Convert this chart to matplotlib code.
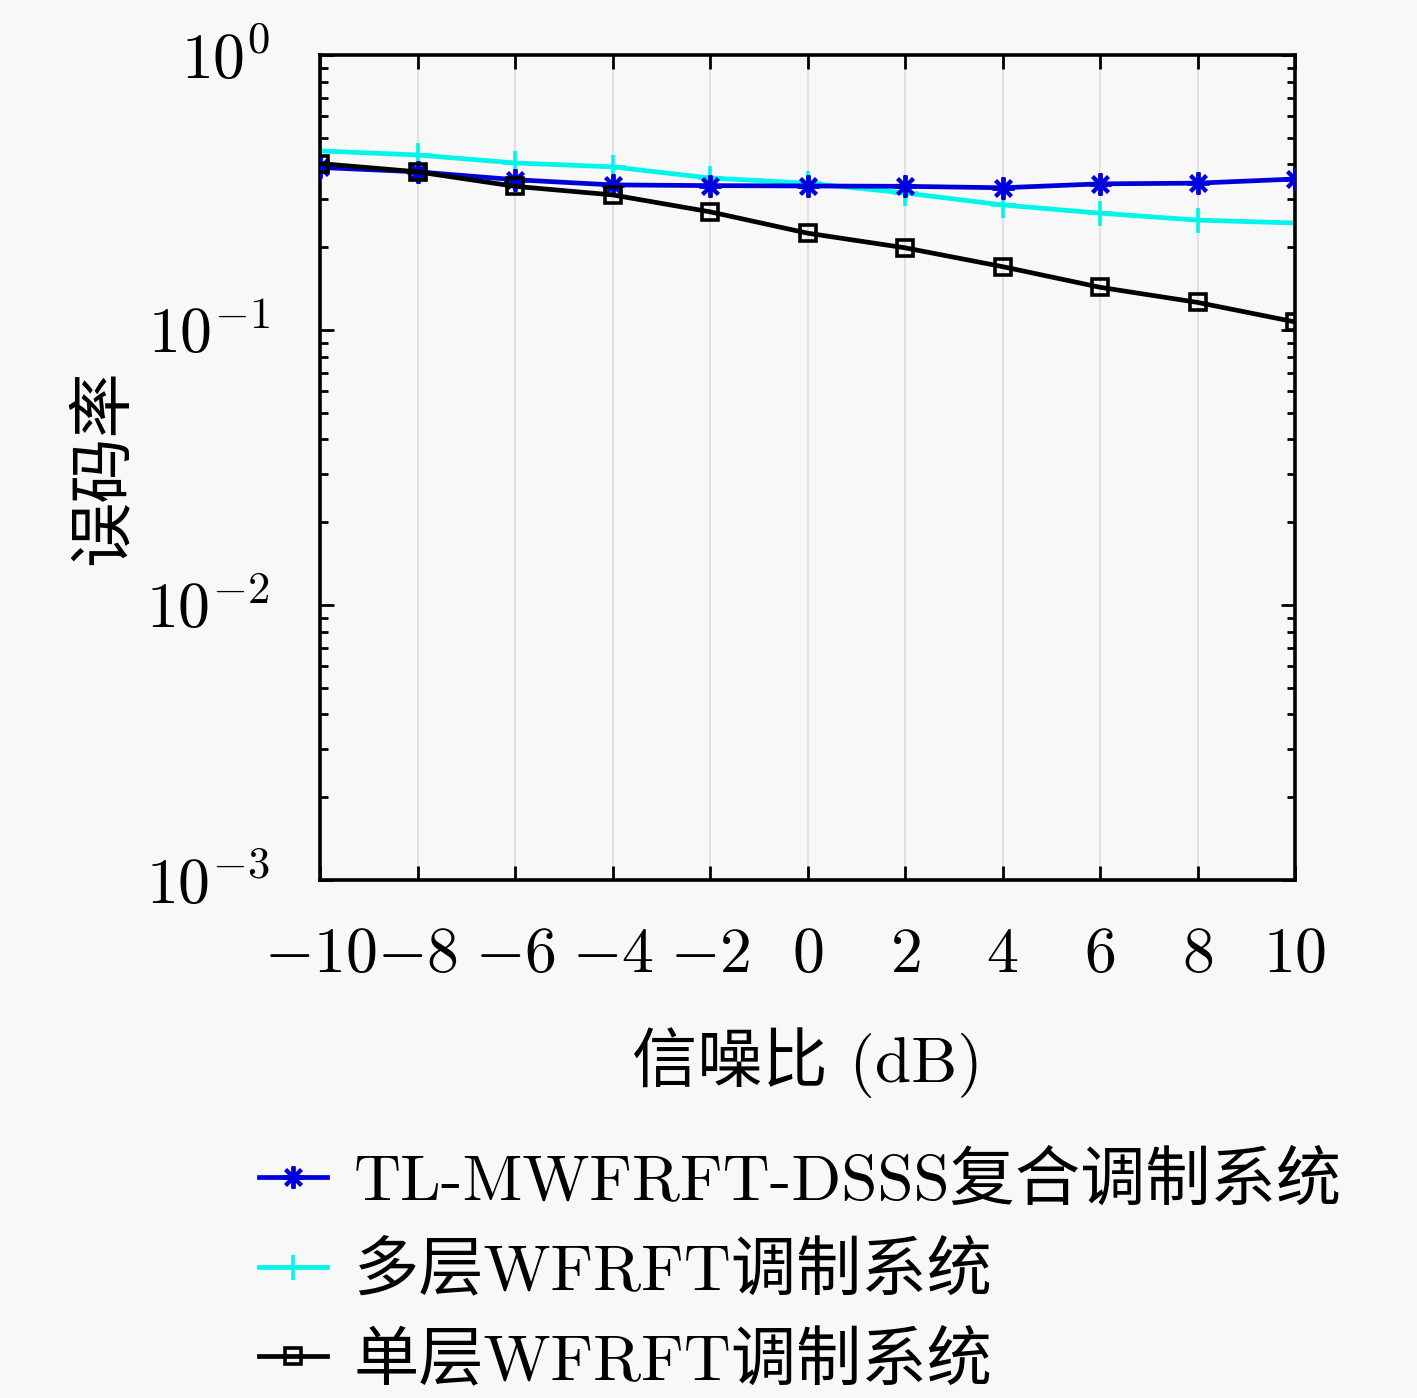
import matplotlib
matplotlib.use("Agg")
import matplotlib.pyplot as plt
import numpy as np
from matplotlib.ticker import FixedLocator, FixedFormatter, LogLocator, NullFormatter

plt.rcParams['mathtext.fontset'] = 'cm'
plt.rcParams['font.family'] = ['cmr10', 'Noto Sans CJK SC', 'DejaVu Sans']
plt.rcParams['axes.unicode_minus'] = False

snr = [-10, -8, -6, -4, -2, 0, 2, 4, 6, 8, 10]
ber_tl = [0.390, 0.376, 0.352, 0.337, 0.335, 0.334, 0.333, 0.329, 0.340, 0.342, 0.354]
ber_multi = [0.448, 0.433, 0.405, 0.392, 0.357, 0.342, 0.315, 0.285, 0.266, 0.251, 0.245]
ber_single = [0.403, 0.376, 0.333, 0.310, 0.269, 0.225, 0.199, 0.170, 0.143, 0.126, 0.107]
labels = ['TL-MWFRFT-DSSS复合调制系统', '多层WFRFT调制系统', '单层WFRFT调制系统']
xticks = [-10, -8, -6, -4, -2, 0, 2, 4, 6, 8, 10]
xticklabels = [r'$-10$', r'$-8$', r'$-6$', r'$-4$', r'$-2$', r'$0$', r'$2$', r'$4$', r'$6$', r'$8$', r'$10$']
yticks = [1e-3, 1e-2, 1e-1, 1e0]
yticklabels = [r'$10^{-3}$', r'$10^{-2}$', r'$10^{-1}$', r'$10^{0}$']

bg = '#f8f8f8'
fig = plt.figure(figsize=(14.17, 13.98), dpi=100, facecolor=bg)
ax = fig.add_axes([320/1417, 1-880/1398, (1295-320)/1417, (880-55)/1398])
ax.set_facecolor(bg)

ax.plot(snr, ber_tl, color='#0000dd', lw=3.4, marker=(8, 2, 0), ms=16, mew=2.8, label=labels[0], zorder=3)
ax.plot(snr, ber_multi, color='#00f5ec', lw=3.4, marker='+', ms=18, mew=2.6, label=labels[1], zorder=2)
ax.plot(snr, ber_single, color='black', lw=3.4, marker='s', ms=11, mew=2.6, mfc='none', label=labels[2], zorder=4)

ax.set_yscale('log')
ax.set_xlim(-10, 10)
ax.set_ylim(1e-3, 1e0)
ax.xaxis.set_major_locator(FixedLocator(xticks))
ax.xaxis.set_major_formatter(FixedFormatter(xticklabels))
ax.yaxis.set_major_locator(FixedLocator(yticks))
ax.yaxis.set_major_formatter(FixedFormatter(yticklabels))
ax.yaxis.set_minor_locator(LogLocator(base=10, subs=np.arange(2, 10)))
ax.yaxis.set_minor_formatter(NullFormatter())

ax.grid(True, axis='x', color='#dddddd', lw=1.2)
ax.tick_params(which='both', direction='in', top=True, right=True, width=2, labelsize=46, colors='black')
ax.tick_params(which='major', length=10)
ax.tick_params(which='minor', length=6)
ax.tick_params(axis='x', pad=34)
ax.tick_params(axis='y', pad=36)
for s in ax.spines.values():
    s.set_linewidth(2.6)

ax.set_xlabel('信噪比 (dB)', fontsize=47, labelpad=30)
ax.set_ylabel('误码率', fontsize=47, labelpad=8)

leg = fig.legend(loc='upper left', bbox_to_anchor=(226/1417, 1-1120/1398), frameon=False,
                 fontsize=47, handlelength=1.05, handletextpad=0.4, labelspacing=0.44, borderpad=0)

fig.savefig('out.png', dpi=100, facecolor=bg)
